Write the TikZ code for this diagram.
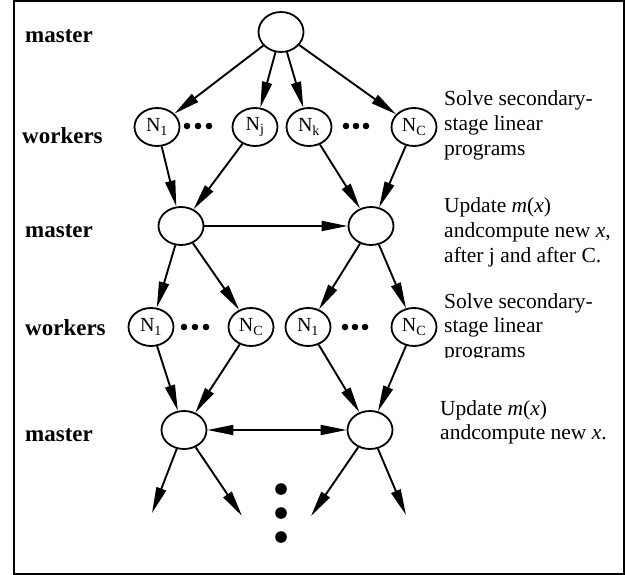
\documentclass[tikz,border=0pt]{standalone}
\usepackage{fontspec}
\setmainfont{Liberation Serif}
\usetikzlibrary{shapes.geometric,arrows.meta}
\tikzset{
  nd/.style={ellipse, draw, line width=1.8pt, minimum width=45pt, minimum height=38pt, inner sep=0pt, font=\fontsize{20}{20}\selectfont},
  arr/.style={-{Triangle[length=26pt,width=10pt]}, line width=1.9pt},
  barr/.style={{Triangle[length=26pt,width=10pt]}-{Triangle[length=26pt,width=10pt]}, line width=1.9pt},
  lbl/.style={font=\bfseries\fontsize{23}{27}\selectfont, anchor=base west, inner sep=0pt},
  txt/.style={font=\fontsize{21.5}{24.5}\selectfont, anchor=base west, inner sep=0pt},
  dotsm/.style={fill=black},
}
\begin{document}
\begin{tikzpicture}[x=1pt,y=-1pt]
\useasboundingbox (0,0) rectangle (626,575);
\draw[line width=2pt] (14,1) rectangle (624,574);

% left labels
\node[lbl] (l1) at (25,43) {master};
\node[lbl] (l2) at (22,143) {workers};
\node[lbl] (l3) at (25,237) {master};
\node[lbl] (l4) at (25,335) {workers};
\node[lbl] (l5) at (25,441) {master};

% nodes
\node[nd, minimum width=45pt, minimum height=40pt] (top) at (281,32) {};
\node[nd] (a1) at (157,127) {N\textsubscript{1}};
\node[nd] (aj) at (255,127) {N\textsubscript{j}};
\node[nd] (ak) at (309,127) {N\textsubscript{k}};
\node[nd] (aC) at (414,127) {N\textsubscript{C}};

\node[nd] (m1) at (181,226) {};
\node[nd] (m2) at (371,226) {};

\node[nd] (b1) at (151,327) {N\textsubscript{1}};
\node[nd] (bC) at (251,327) {N\textsubscript{C}};
\node[nd] (c1) at (308,327) {N\textsubscript{1}};
\node[nd] (cC) at (414,327) {N\textsubscript{C}};

\node[nd] (n1) at (184,430) {};
\node[nd] (n2) at (370,430) {};

\coordinate (e1) at (152,513);
\coordinate (e2) at (242,516);
\coordinate (e3) at (311,516);
\coordinate (e4) at (406,515);

% dots
\foreach \x in {187,198,209} \fill[dotsm] (\x,126) circle (3.3);
\foreach \x in {346,356,366} \fill[dotsm] (\x,126) circle (3.3);
\foreach \x in {184,195,206} \fill[dotsm] (\x,327) circle (3.3);
\foreach \x in {345,355,365} \fill[dotsm] (\x,327) circle (3.3);
\foreach \y in {489,513,537} \fill[dotsm] (281,\y) circle (5.8);

% edges
\draw[arr] (top) -- (a1);
\draw[arr] (top) -- (aj);
\draw[arr] (top) -- (ak);
\draw[arr] (top) -- (aC);

\draw[arr] (a1) -- (m1);
\draw[arr] (aj) -- (m1);
\draw[arr] (ak) -- (m2);
\draw[arr] (aC) -- (m2);

\draw[arr] (m1) -- (m2);

\draw[arr] (m1) -- (b1);
\draw[arr] (m1) -- (bC);
\draw[arr] (m2) -- (c1);
\draw[arr] (m2) -- (cC);

\draw[arr] (b1) -- (n1);
\draw[arr] (bC) -- (n1);
\draw[arr] (c1) -- (n2);
\draw[arr] (cC) -- (n2);

\draw[barr] (n1) -- (n2);

\draw[arr] (n1) -- (e1);
\draw[arr] (n1) -- (e2);
\draw[arr] (n2) -- (e3);
\draw[arr] (n2) -- (e4);

% right texts
\node[txt] (t1) at (444,106) {Solve secondary-};
\node[txt] (t2) at (444,130.5) {stage linear};
\node[txt] (t3) at (444,155) {programs};

\node[txt] (u1) at (444,212) {Update \textit{m}(\textit{x})};
\node[txt] (u2) at (444,237) {andcompute new \textit{x},};
\node[txt] (u3) at (444,262) {after j and after C.};

\node[txt] (s1) at (444,308.5) {Solve secondary-};
\node[txt] (s2) at (444,332.5) {stage linear};
\begin{scope}
\clip (430,330) rectangle (620,357);
\node[txt] (s3) at (444,357) {programs};
\end{scope}

\node[txt] (v1) at (440,415) {Update \textit{m}(\textit{x})};
\node[txt] (v2) at (440,439.5) {andcompute new \textit{x}.};
\end{tikzpicture}
\end{document}
